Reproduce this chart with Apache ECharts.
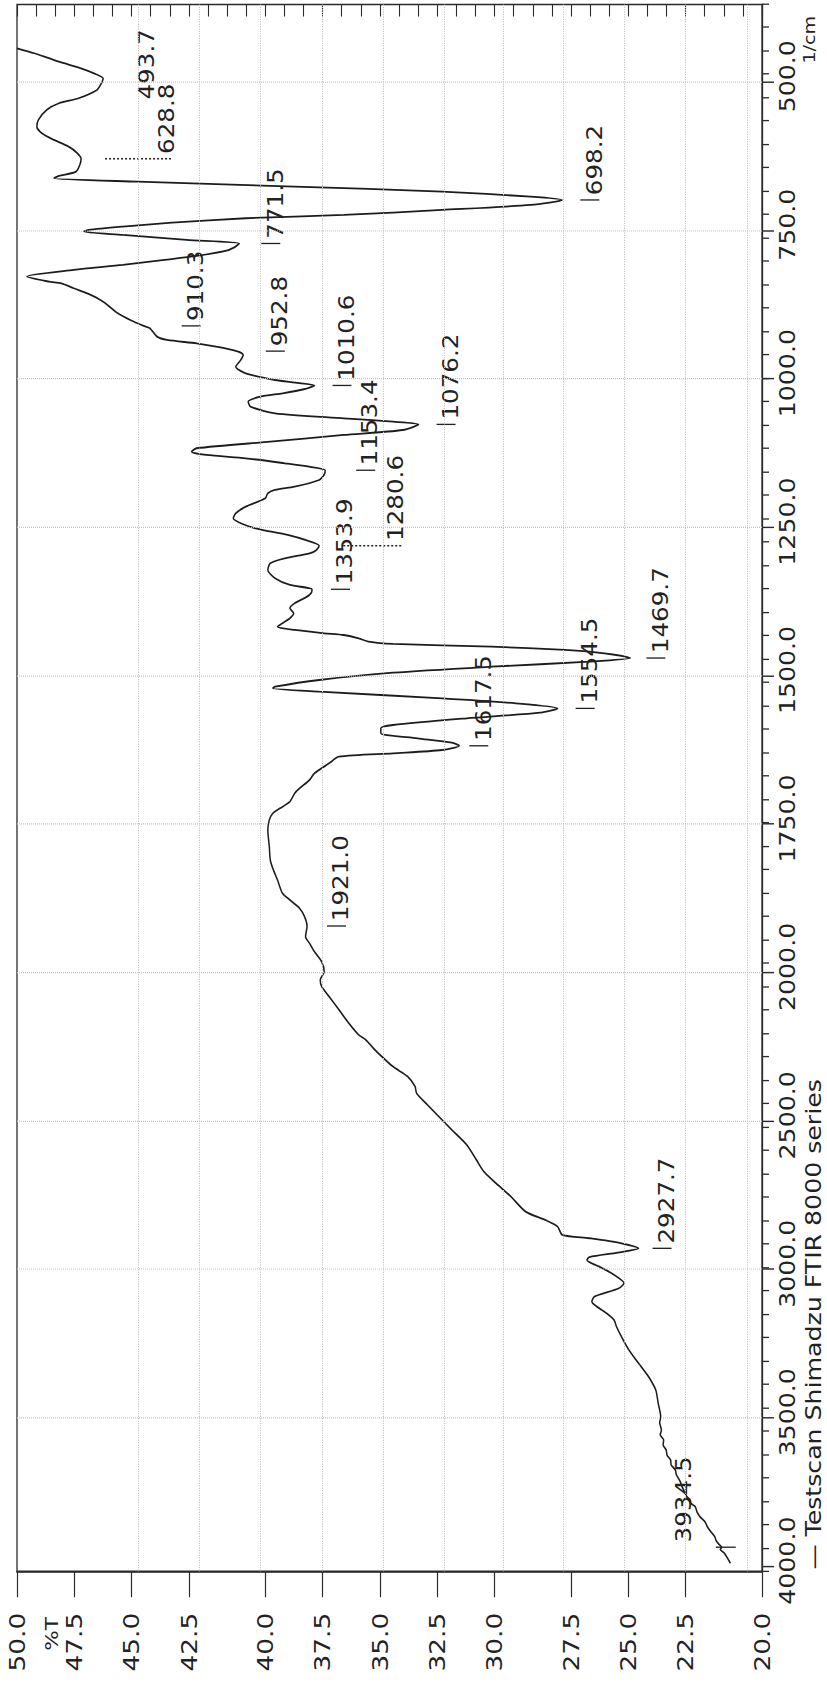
<!DOCTYPE html>
<html>
<head>
<meta charset="utf-8">
<title>FTIR spectrum</title>
<script src="https://cdn.jsdelivr.net/npm/echarts@6/dist/echarts.min.js"></script>
<style>
  html, body { margin: 0; padding: 0; background: #fff; width: 827px; height: 1686px; overflow: hidden; }
  /* The spectrum is laid out landscape and turned to read bottom-to-top on the page. */
  #chart {
    position: absolute; left: 0; top: 0;
    width: 1405px; height: 827px;
    transform-origin: 0 0;
    transform: translateY(1686px) scaleY(1.2) rotate(-90deg);
  }
</style>
</head>
<body>
<div id="chart"></div>
<script>
// ---- spectrum trace: wavenumber (1/cm) and transmittance (%T) ----
const WAVENUMBER = [
  442.7, 451.1, 459.5, 467.9, 476.4, 485.0, 493.7, 503.0, 512.9, 526.9,
  535.3, 546.6, 563.4, 574.7, 585.8, 597.1, 608.4, 619.0, 628.8, 638.0,
  650.5, 657.7, 661.6, 667.3, 675.7, 684.1, 692.6, 698.2, 706.6, 715.0,
  723.4, 729.0, 736.4, 743.1, 748.7, 751.5, 757.1, 765.5, 771.5, 778.0,
  784.0, 792.5, 799.2, 807.6, 816.1, 827.3, 835.8, 838.5, 846.9, 858.2,
  869.5, 889.0, 900.3, 910.3, 914.3, 928.4, 934.0, 939.6, 945.2, 952.8,
  959.2, 967.7, 979.0, 990.1, 1001.4, 1006.0, 1010.6, 1017.0, 1023.8, 1029.5,
  1037.9, 1046.3, 1057.5, 1065.9, 1071.6, 1076.2, 1085.6, 1094.0, 1105.3, 1116.4,
  1122.1, 1127.7, 1133.3, 1141.7, 1147.0, 1153.4, 1160.0, 1169.8, 1181.1, 1186.6,
  1192.2, 1200.6, 1214.8, 1225.9, 1234.3, 1242.7, 1251.2, 1262.4, 1272.0, 1280.6,
  1288.0, 1293.3, 1301.7, 1310.1, 1321.4, 1335.3, 1346.6, 1353.9, 1360.0, 1366.3,
  1377.5, 1385.9, 1394.3, 1402.7, 1411.1, 1416.9, 1422.4, 1428.0, 1430.9, 1436.4,
  1442.1, 1446.0, 1450.5, 1456.1, 1461.7, 1469.7, 1475.8, 1484.3, 1494.4, 1506.7,
  1518.0, 1520.7, 1526.4, 1537.5, 1545.9, 1554.5, 1561.7, 1571.2, 1582.5, 1588.0,
  1596.5, 1604.9, 1612.3, 1617.5, 1624.6, 1630.1, 1635.8, 1647.0, 1663.8, 1675.1,
  1689.1, 1697.5, 1711.6, 1722.8, 1731.2, 1742.5, 1759.3, 1787.4, 1809.8, 1823.8,
  1843.5, 1865.9, 1877.2, 1891.2, 1905.3, 1921.0, 1939.1, 1950.2, 1964.3, 1981.1,
  1998.0, 2023.6, 2046.1, 2079.8, 2124.6, 2169.4, 2208.9, 2225.7, 2253.7, 2270.4,
  2315.6, 2349.2, 2382.9, 2405.2, 2444.6, 2478.3, 2528.8, 2579.4, 2629.9, 2669.3,
  2708.4, 2753.6, 2804.1, 2832.1, 2854.7, 2882.6, 2893.8, 2910.0, 2927.7, 2942.0,
  2957.0, 2966.9, 2989.4, 3011.7, 3045.4, 3062.2, 3090.5, 3107.4, 3124.1, 3146.3,
  3168.9, 3191.5, 3225.1, 3270.0, 3314.8, 3359.9, 3404.7, 3449.6, 3494.7, 3515.0,
  3539.7, 3556.0, 3573.3, 3590.0, 3607.0, 3625.0, 3640.7, 3657.0, 3674.4, 3690.0,
  3713.8, 3730.0, 3752.9, 3765.0, 3775.3, 3787.0, 3797.9, 3815.0, 3831.6, 3848.0,
  3865.3, 3880.0, 3899.0, 3912.0, 3926.9, 3934.5, 3942.0, 3955.0, 3970.0, 3988.7
];
const TRANSMITTANCE = [
  50.00, 49.30, 48.71, 48.11, 47.42, 46.90, 46.53, 46.62, 46.78, 47.52,
  48.31, 48.81, 49.14, 49.20, 49.00, 48.51, 47.92, 47.58, 47.42, 47.46,
  47.62, 48.31, 48.51, 45.15, 38.82, 32.88, 29.32, 28.04, 29.32, 32.88,
  36.84, 40.79, 43.76, 45.74, 47.12, 47.32, 45.74, 43.17, 41.05, 41.25,
  41.60, 42.77, 44.06, 45.74, 47.72, 49.60, 48.71, 48.21, 47.72, 47.03,
  46.53, 45.94, 45.44, 44.90, 44.65, 44.36, 43.96, 42.77, 41.98, 41.15,
  40.89, 40.99, 41.19, 40.79, 39.61, 38.80, 38.02, 38.45, 39.30, 40.20,
  40.69, 40.60, 39.61, 36.84, 34.86, 33.83, 34.46, 36.84, 39.80, 42.77,
  42.97, 42.38, 40.79, 39.21, 38.30, 37.59, 37.62, 37.83, 38.82, 39.61,
  39.90, 40.00, 40.79, 41.19, 41.29, 40.99, 40.40, 39.10, 38.30, 37.83,
  37.95, 38.22, 39.21, 39.80, 39.90, 39.61, 39.01, 38.12, 38.15, 38.32,
  38.82, 39.01, 38.86, 39.01, 39.31, 39.51, 38.82, 37.63, 36.84, 36.24,
  35.85, 34.86, 30.90, 27.94, 26.35, 25.30, 26.95, 30.90, 34.86, 37.83,
  39.61, 39.70, 37.83, 32.88, 29.92, 28.23, 28.92, 31.89, 34.86, 35.35,
  35.35, 33.87, 32.49, 32.19, 32.88, 34.86, 37.04, 37.43, 38.02, 38.22,
  38.62, 38.82, 39.01, 39.41, 39.70, 39.84, 39.90, 39.84, 39.80, 39.70,
  39.51, 39.31, 39.01, 38.62, 38.42, 38.32, 38.38, 38.22, 38.02, 37.73,
  37.63, 37.79, 37.73, 37.43, 37.03, 36.64, 36.24, 35.95, 35.65, 35.45,
  34.86, 34.27, 33.97, 33.91, 33.47, 33.08, 32.49, 31.89, 31.50, 31.20,
  30.71, 30.11, 29.52, 28.73, 28.23, 28.04, 26.95, 25.70, 24.97, 25.80,
  26.95, 27.05, 26.55, 26.06, 25.56, 25.76, 26.75, 26.85, 26.65, 26.26,
  25.96, 25.86, 25.66, 25.36, 24.97, 24.57, 24.28, 24.18, 24.08, 24.12,
  24.05, 24.10, 23.96, 23.98, 23.86, 23.82, 23.68, 23.66, 23.49, 23.45,
  23.29, 23.22, 23.09, 23.02, 22.89, 22.86, 22.69, 22.62, 22.50, 22.30,
  22.20, 22.08, 21.90, 21.85, 21.71, 21.62, 21.68, 21.51, 21.40, 21.27
];

// ---- picked peaks ----
const PEAK_WN = [493.7, 628.8, 698.2, 771.5, 910.3, 952.8, 1010.6, 1076.2, 1153.4,
                 1280.6, 1353.9, 1469.7, 1554.5, 1617.5, 1921.0, 2927.7, 3934.5];
const PEAK_T  = [46.53, 47.42, 28.04, 41.05, 44.90, 41.15, 38.02, 33.83, 37.59,
                 37.83, 38.12, 25.30, 28.23, 32.19, 38.32, 24.97, 21.62];

// ---- axis text ----
const WN_LABELS = [500, 750, 1000, 1250, 1500, 1750, 2000, 2500, 3000, 3500, 4000];
const WN_GRID   = [500, 750, 1000, 1250, 1500, 1750, 2000, 2500, 3000, 3500];
const T_LABELS  = ['50.0', '47.5', '45.0', '42.5', '40.0', '37.5', '35.0',
                   '32.5', '30.0', '27.5', '25.0', '22.5', '20.0'];
const T_LABEL_STEP = [0, 3, 6, 9, 13, 16, 19, 22, 25, 29, 32, 35, 39];
const T_GRID = [45.10, 42.65, 40.20, 37.72, 35.26, 32.80, 30.40, 28.00, 25.56, 23.10, 20.60];

// ---- layout ----
const T_MIN = 20, T_MAX = 50, T_STEPS = 39;     // %T scale, 39 printed tick steps
const U_MIN = 369, U_MAX = 3009, U_STEPS = 67;  // wavenumber scale (folded), 67 tick steps
const GRID = { left: 95, right: 3.75, top: 17, bottom: 65 };
// offset of each peak caption from its peak, across the trace / along it (px)
const LABEL_SHIFT = [44, 86, 32, 36, 52, 43, 32, 32, 45, 77, 33, 30, 32, 24, 34, 28, -38];
const LABEL_NUDGE = [-21.5, 0, 0, 0, 0, 0, 0, 0, 0, 0, 0, 0, 0, 0, 0, 0, 0];

const FONT = "'DejaVu Sans', sans-serif";
const INK = '#222';
const FRAME = '#2b2b2b';

// Above 2000 1/cm the chart runs at half the scale of the fingerprint region.
function toU(w) { return w <= 2000 ? w : 2000 + (w - 2000) / 2; }
function fromU(u) { return u <= 2000 ? u : 2000 + (u - 2000) * 2; }

const T_LABEL_POS = T_LABEL_STEP.map(k => T_MAX - k * (T_MAX - T_MIN) / T_STEPS);
function tLabel(v) {
  let best = 0;
  T_LABEL_POS.forEach((p, i) => { if (Math.abs(p - v) < Math.abs(T_LABEL_POS[best] - v)) best = i; });
  return T_LABELS[best];
}

const chart = echarts.init(document.getElementById('chart'), null,
  { renderer: 'svg', width: 1405, height: 827 });

const option = {
  animation: false,
  backgroundColor: '#fff',
  grid: [
    Object.assign({ show: true, borderColor: FRAME, borderWidth: 1.3, backgroundColor: 'transparent' }, GRID),
    Object.assign({}, GRID)
  ],
  xAxis: [
    {
      gridIndex: 0, type: 'value', inverse: true, min: U_MIN, max: U_MAX, position: 'bottom',
      axisLine: { show: true, lineStyle: { color: FRAME, width: 1.3 } },
      axisTick: { show: true, customValues: WN_LABELS.map(toU), length: 12,
                  lineStyle: { color: FRAME, width: 1.2 } },
      axisLabel: { show: true, customValues: WN_LABELS.map(toU),
                   formatter: v => Math.round(fromU(v)).toFixed(1),
                   margin: 15, padding: [0, 0, 0, 10],
                   fontSize: 21, fontFamily: FONT, color: INK },
      splitLine: { show: false }
    },
    {
      gridIndex: 1, type: 'value', inverse: true, min: 0, max: U_STEPS, interval: 1, position: 'bottom',
      axisLine: { show: false },
      axisTick: { show: true, length: 7, lineStyle: { color: FRAME, width: 1.1 } },
      axisLabel: { show: false }, splitLine: { show: false }
    }
  ],
  yAxis: [
    {
      gridIndex: 0, type: 'value', min: T_MIN, max: T_MAX, position: 'left',
      axisLine: { show: true, lineStyle: { color: FRAME, width: 1.3 } },
      axisTick: { show: true, customValues: T_LABEL_POS, length: 21,
                  lineStyle: { color: FRAME, width: 1.2 } },
      axisLabel: { show: true, customValues: T_LABEL_POS, formatter: tLabel,
                   margin: 34, fontSize: 22, fontFamily: FONT, color: INK },
      splitLine: { show: false }
    },
    {
      gridIndex: 1, type: 'value', min: 0, max: T_STEPS, interval: 1, position: 'left',
      axisLine: { show: false },
      axisTick: { show: true, length: 10, lineStyle: { color: FRAME, width: 1.1 } },
      axisLabel: { show: false }, splitLine: { show: false }
    }
  ],
  graphic: [
    { type: 'text', x: 97, y: 813,
      style: { text: '\u2014 Testscan Shimadzu FTIR 8000 series', fontSize: 21, fontFamily: FONT,
               fill: INK, align: 'left', verticalAlign: 'middle' } },
    { type: 'text', x: 57.5, y: 52.5,
      style: { text: '%T', fontSize: 18, fontFamily: FONT, fill: INK, align: 'right', verticalAlign: 'middle' } },
    { type: 'text', x: 1352, y: 810,
      style: { text: '1/cm', fontSize: 16, fontFamily: FONT, fill: INK, align: 'left', verticalAlign: 'middle' } }
  ],
  series: [
    {
      name: 'spectrum', type: 'line', xAxisIndex: 0, yAxisIndex: 0,
      data: WAVENUMBER.map((w, i) => [toU(w), TRANSMITTANCE[i]]),
      showSymbol: false, symbol: 'none', smooth: 0.25, clip: true, z: 3,
      lineStyle: { color: '#1c1c1c', width: 1.5 },
      emphasis: { disabled: true },
      markLine: {
        silent: true, symbol: ['none', 'none'], label: { show: false },
        lineStyle: { type: 'dotted', color: '#c4c4c4', width: 1 },
        emphasis: { disabled: true },
        data: WN_GRID.map(w => ({ xAxis: toU(w) })).concat(T_GRID.map(t => ({ yAxis: t })))
      }
    },
    {
      name: 'peaks', type: 'custom', xAxisIndex: 0, yAxisIndex: 0, z: 4, clip: false,
      data: PEAK_WN.map((w, i) => [toU(w), PEAK_T[i], w]),
      renderItem: function (params, api) {
        const i = params.dataIndex;
        const p = api.coord([api.value(0), api.value(1)]);
        const shift = LABEL_SHIFT[i];
        const nudge = LABEL_NUDGE[i];
        const lane = p[1] + shift;
        const children = [];
        // a caption pushed back over its own peak hides the marker
        if (nudge >= 0) {
          let shape, dash = null;
          if (shift > 60) {
            shape = { x1: p[0], y1: p[1] + 24, x2: p[0], y2: lane + 5 };
            dash = [2, 2];
          } else if (shift > 0) {
            shape = { x1: p[0], y1: lane - 14, x2: p[0], y2: lane + 5 };
          } else {
            shape = { x1: p[0], y1: p[1] - 6, x2: p[0], y2: p[1] + 14 };
          }
          const lineStyle = { stroke: INK, lineWidth: 1.1 };
          if (dash) lineStyle.lineDash = dash;
          children.push({ type: 'line', shape: shape, style: lineStyle });
        }
        children.push({
          type: 'text', x: p[0] + 4 + nudge, y: lane,
          style: { text: api.value(2).toFixed(1), fontSize: 20.5, fontFamily: FONT,
                   fill: INK, align: 'left', verticalAlign: 'middle' }
        });
        return { type: 'group', children: children };
      }
    }
  ]
};

chart.setOption(option);
</script>
</body>
</html>
